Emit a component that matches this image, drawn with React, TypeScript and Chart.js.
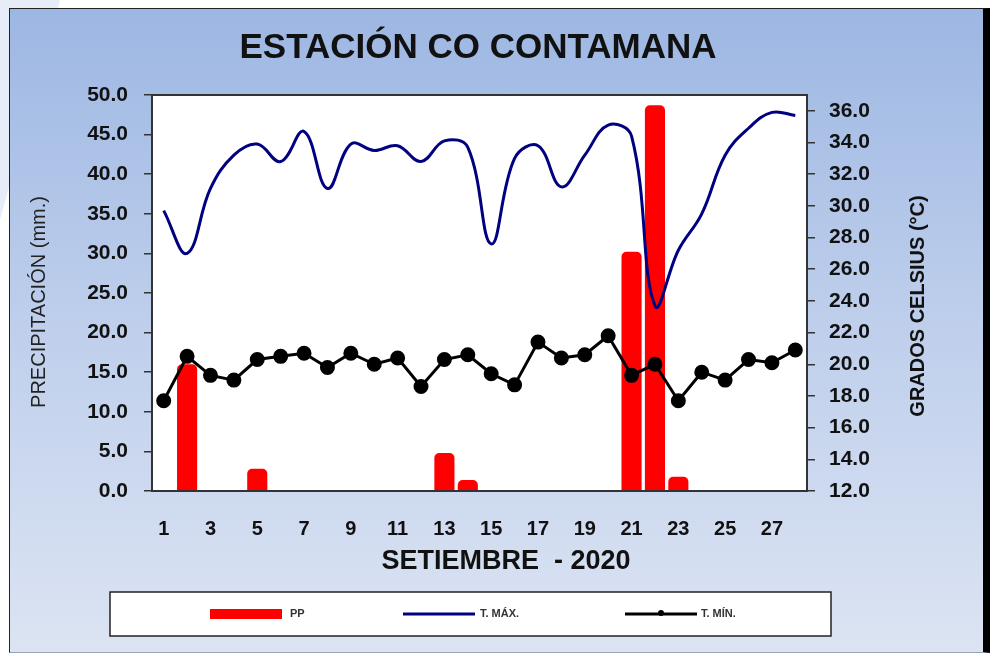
import React, { useEffect, useRef } from 'react';
import { Chart, registerables } from 'chart.js';

Chart.register(...registerables);

const FONT = '"Liberation Sans", Arial, Helvetica, sans-serif';

const days = ['1', '2', '3', '4', '5', '6', '7', '8', '9', '10', '11', '12', '13', '14',
  '15', '16', '17', '18', '19', '20', '21', '22', '23', '24', '25', '26', '27', '28'];

const precipitation = [0, 16.0, 0, 0, 2.8, 0, 0, 0, 0, 0, 0, 0, 4.8, 1.4,
  0, 0, 0, 0, 0, 0, 30.2, 48.7, 1.8, 0, 0, 0, 0, 0];

const tempMax = [29.7, 27.0, 31.1, 33.2, 33.9, 32.8, 34.7, 31.1, 33.9, 33.5, 33.8, 32.8, 34.1, 33.7,
  27.6, 33.0, 33.8, 31.2, 33.2, 35.1, 34.4, 23.7, 27.2, 29.5, 33.2, 34.9, 35.9, 35.7];

const tempMin = [17.7, 20.5, 19.3, 19.0, 20.3, 20.5, 20.7, 19.8, 20.7, 20.0, 20.4, 18.6, 20.3, 20.6,
  19.4, 18.7, 21.4, 20.4, 20.6, 21.8, 19.3, 20.0, 17.7, 19.5, 19.0, 20.3, 20.1, 20.9];

const titleText = 'ESTACIÓN CO CONTAMANA';
const xTitle = 'SETIEMBRE  - 2020';
const yLeftTitle = 'PRECIPITACIÓN (mm.)';
const yRightTitle = 'GRADOS CELSIUS (°C)';
const legendLabels = ['PP', 'T. MÁX.', 'T. MÍN.'];

const ppRange = { min: 0, max: 50, step: 5 };
const tempRange = { min: 12, max: 37, step: 2 };

const decorPlugin = {
  id: 'decor',
  beforeDatasetsDraw(chart: any) {
    const { ctx, chartArea } = chart;
    const { left, top, right, bottom } = chartArea;
    ctx.save();
    ctx.fillStyle = '#ffffff';
    ctx.fillRect(left, top, right - left, bottom - top);
    ctx.restore();
  },
  afterDatasetsDraw(chart: any) {
    const { ctx, chartArea } = chart;
    const { left, top, right, bottom } = chartArea;
    ctx.save();
    ctx.strokeStyle = '#333333';
    ctx.lineWidth = 2;
    ctx.strokeRect(left, top, right - left, bottom - top);
    ctx.restore();
  },
  afterDraw(chart: any) {
    const { ctx } = chart;
    ctx.save();
    ctx.fillStyle = '#111111';
    ctx.textAlign = 'center';
    ctx.textBaseline = 'middle';
    // main title
    ctx.font = `bold 35px ${FONT}`;
    ctx.fillText(titleText, 478, 48);
    // x title
    ctx.font = `bold 27px ${FONT}`;
    ctx.fillText(xTitle, 506, 562);
    // left title
    ctx.save();
    ctx.translate(39, 302);
    ctx.rotate(-Math.PI / 2);
    ctx.font = `20px ${FONT}`;
    ctx.fillStyle = '#222222';
    ctx.fillText(yLeftTitle, 0, 0);
    ctx.restore();
    // right title
    ctx.save();
    ctx.translate(918, 306);
    ctx.rotate(-Math.PI / 2);
    ctx.font = `bold 20px ${FONT}`;
    ctx.fillText(yRightTitle, 0, 0);
    ctx.restore();

    // legend box
    ctx.fillStyle = '#ffffff';
    ctx.fillRect(110, 592, 721, 44);
    ctx.strokeStyle = '#222222';
    ctx.lineWidth = 1.5;
    ctx.strokeRect(110, 592, 721, 44);
    const ly = 614;
    // PP
    ctx.fillStyle = '#ff0000';
    ctx.fillRect(210, 609, 72, 10);
    // T MAX
    ctx.strokeStyle = '#000080';
    ctx.lineWidth = 3;
    ctx.beginPath();
    ctx.moveTo(403, ly);
    ctx.lineTo(475, ly);
    ctx.stroke();
    // T MIN
    ctx.strokeStyle = '#000000';
    ctx.beginPath();
    ctx.moveTo(625, ly);
    ctx.lineTo(697, ly);
    ctx.stroke();
    ctx.fillStyle = '#000000';
    ctx.beginPath();
    ctx.arc(661, ly - 1, 3, 0, Math.PI * 2);
    ctx.fill();
    ctx.font = `bold 11px ${FONT}`;
    ctx.fillStyle = '#333333';
    ctx.textAlign = 'left';
    ctx.fillText(legendLabels[0], 290, ly);
    ctx.fillText(legendLabels[1], 480, ly);
    ctx.fillText(legendLabels[2], 701, ly);
    ctx.restore();
  },
};

export default function App() {
  const ref = useRef<HTMLCanvasElement>(null);

  useEffect(() => {
    document.body.style.margin = '0';
    const canvas = ref.current!;
    const chart = new Chart(canvas, {
      type: 'bar',
      data: {
        labels: days,
        datasets: [
          {
            type: 'bar',
            label: legendLabels[0],
            data: precipitation,
            backgroundColor: '#ff0000',
            yAxisID: 'y',
            order: 3,
            barPercentage: 0.86,
            categoryPercentage: 1,
            borderRadius: 5,
            borderSkipped: 'start',
          } as any,
          {
            type: 'line',
            label: legendLabels[1],
            data: tempMax,
            borderColor: '#000080',
            borderWidth: 3,
            pointRadius: 0,
            tension: 0.4,
            yAxisID: 'y1',
            order: 1,
          } as any,
          {
            type: 'line',
            label: legendLabels[2],
            data: tempMin,
            borderColor: '#000000',
            backgroundColor: '#000000',
            borderWidth: 3,
            pointRadius: 6,
            pointBackgroundColor: '#000000',
            pointBorderColor: '#000000',
            tension: 0,
            yAxisID: 'y1',
            order: 0,
          } as any,
        ],
      },
      options: {
        responsive: false,
        maintainAspectRatio: false,
        devicePixelRatio: 1,
        animation: false,
        layout: { padding: { top: 95, left: 0, right: 0, bottom: 0 } },
        plugins: {
          legend: { display: false },
          tooltip: { enabled: false },
          title: { display: false },
        },
        scales: {
          x: {
            type: 'category',
            offset: true,
            grid: { display: false },
            border: { display: false },
            ticks: {
              autoSkip: false,
              maxRotation: 0,
              minRotation: 0,
              padding: 18,
              color: '#111111',
              font: { family: FONT, size: 20, weight: 'bold' },
              callback: (_v: any, i: number) => (i % 2 === 0 ? days[i] : ''),
            },
            afterFit: (s: any) => { s.height = 165; },
          },
          y: {
            type: 'linear',
            position: 'left',
            min: ppRange.min,
            max: ppRange.max,
            grid: {
              display: true,
              drawOnChartArea: false,
              drawTicks: true,
              tickLength: 8,
              color: '#333333',
              lineWidth: 1.5,
            },
            border: { display: false },
            ticks: {
              stepSize: ppRange.step,
              padding: 16,
              color: '#111111',
              font: { family: FONT, size: 21, weight: 'bold' },
              callback: (v: any) => Number(v).toFixed(1),
            },
            afterFit: (s: any) => { s.width = 152; },
          },
          y1: {
            type: 'linear',
            position: 'right',
            min: tempRange.min,
            max: tempRange.max,
            grid: {
              display: true,
              drawOnChartArea: false,
              drawTicks: true,
              tickLength: 8,
              color: '#333333',
              lineWidth: 1.5,
            },
            border: { display: false },
            ticks: {
              stepSize: tempRange.step,
              includeBounds: false,
              padding: 14,
              color: '#111111',
              font: { family: FONT, size: 21, weight: 'bold' },
              callback: (v: any) => Number(v).toFixed(1),
            },
            afterFit: (s: any) => { s.width = 190; },
          },
        },
      } as any,
      plugins: [decorPlugin],
    });
    return () => chart.destroy();
  }, []);

  return (
    <div style={{ position: 'relative', width: 997, height: 656, overflow: 'hidden', background: '#ffffff' }}>
      <div
        style={{
          position: 'absolute', left: 0, top: 0, width: 60, height: 220,
          background: '#E6ECF8', clipPath: 'polygon(0 0, 100% 0, 0 100%)',
        }}
      />
      <div
        style={{
          position: 'absolute', left: 9, top: 8, width: 981, height: 645,
          boxSizing: 'border-box',
          borderLeft: '1.5px solid #222',
          borderTop: '1.5px solid #222',
          borderRight: '7px solid #000',
          borderBottom: '1px solid #9aa3b5',
          background: 'linear-gradient(to bottom, #9DB7E3 0%, #BCCDEB 45%, #DCE4F3 100%)',
        }}
      />
      <canvas ref={ref} width={997} height={656} style={{ position: 'absolute', left: 0, top: 0 }} />
    </div>
  );
}
